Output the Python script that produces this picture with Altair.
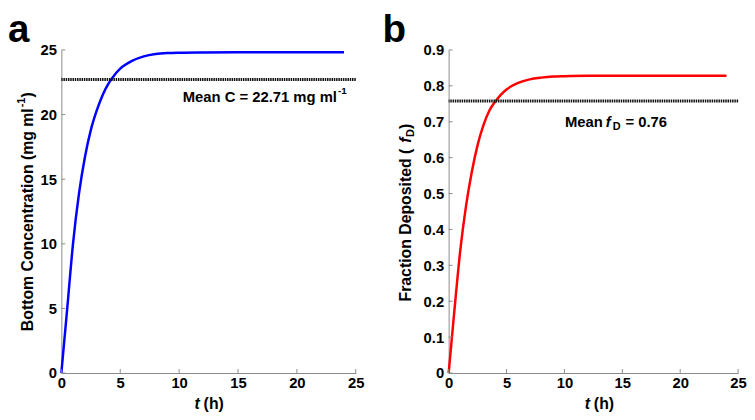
import altair as alt
import pandas as pd

# ---------------- data ----------------
t_hours = [0, 0.5, 1.0, 1.5, 2.0, 2.5, 3.0, 3.5, 4.0, 4.5, 5.0, 6.0, 7.0, 8.0, 9.0,
           10.0, 12.0, 15.0, 18.0, 21.0, 24.0]
bottom_conc = [0, 5.0, 10.1, 13.9, 16.7, 18.8, 20.3, 21.5, 22.4, 23.05, 23.55, 24.15, 24.5,
               24.68, 24.76, 24.79, 24.81, 24.82, 24.82, 24.82, 24.82]
frac_dep = [0, 0.175, 0.34, 0.465, 0.56, 0.635, 0.69, 0.73, 0.755, 0.775, 0.79, 0.808, 0.818,
            0.823, 0.826, 0.827, 0.828, 0.828, 0.828, 0.828, 0.828]
mean_conc = [22.71]
mean_frac = [0.758]
x_ticks = [0, 5, 10, 15, 20, 25]
y_ticks_a = [0, 5, 10, 15, 20, 25]
y_ticks_b = [0, 0.1, 0.2, 0.3, 0.4, 0.5, 0.6, 0.7, 0.8, 0.9]

FONT = "Liberation Sans"
AXC = "#8a8a8a"
FS = 15
TFS = 16
H = 327
WA = 298
WB = 293

df_a = pd.DataFrame({"t": t_hours, "v": bottom_conc})
df_b = pd.DataFrame({"t": t_hours, "v": frac_dep})


def axis_x():
    return alt.Axis(values=x_ticks, ticks=False, tickSize=0, domainColor=AXC, domainWidth=1,
                    labelFont=FONT, labelFontSize=FS, labelFontWeight="bold", labelColor="black",
                    labelPadding=3, grid=False, title=None, labelFlush=False, labelOverlap=False)


def axis_y(vals, fmt):
    return alt.Axis(values=vals, ticks=False, tickSize=0, domainColor=AXC, domainWidth=1,
                    labelFont=FONT, labelFontSize=FS, labelFontWeight="bold", labelColor="black",
                    labelPadding=5, grid=False, title=None, format=fmt, labelOverlap=False,
                    labelFlush=False)


def txt(text, x, y, angle=0, align="left", baseline="middle", size=FS, style="normal",
        dx=0, dy=0):
    kw = dict(font=FONT, fontSize=size, fontWeight="bold", color="black", align=align,
              baseline=baseline, fontStyle=style, dx=dx, dy=dy)
    if angle:
        kw["angle"] = angle
    return alt.Chart(pd.DataFrame({"s": [text]})).mark_text(**kw).encode(
        text="s:N", x=alt.value(x), y=alt.value(y))


def panel(df, color, ydom, yticks, yfmt, W, mean_vals):
    xs = alt.Scale(domain=[0, 25], nice=False, zero=False)
    ys = alt.Scale(domain=ydom, nice=False, zero=False)
    X = lambda f: alt.X(f, scale=xs, axis=axis_x())
    Y = lambda f: alt.Y(f, scale=ys, axis=axis_y(yticks, yfmt))

    line = alt.Chart(df).mark_line(color=color, strokeWidth=2.5, interpolate="monotone").encode(
        x=X("t:Q"), y=Y("v:Q"))
    mean = alt.Chart(pd.DataFrame({"m": mean_vals})).mark_rule(
        color="#111111", strokeWidth=3, strokeDash=[1.5, 0.8]).encode(y=Y("m:Q"))
    xt = alt.Chart(pd.DataFrame({"k": x_ticks})).mark_rule(color=AXC, strokeWidth=1).encode(
        x=X("k:Q"), y=alt.value(H), y2=alt.value(H - 4))
    yt = alt.Chart(pd.DataFrame({"k": yticks})).mark_rule(color=AXC, strokeWidth=1).encode(
        y=Y("k:Q"), x=alt.value(0), x2=alt.value(4))
    return line, mean, xt, yt, X, Y


# ---------------- panel a ----------------
la, ma, xta, yta, Xa, Ya = panel(df_a, "#0000ff", [0, 25], y_ticks_a, "d", WA, mean_conc)
ann_a_pos = pd.DataFrame({"t": [23.4], "y": [21.33]})
ann_a = alt.Chart(ann_a_pos).mark_text(font=FONT, fontSize=FS, fontWeight="bold", color="black",
                                       align="right", baseline="middle").encode(
    x=Xa("t:Q"), y=Ya("y:Q"), text=alt.value("Mean C = 22.71 mg ml"))
ann_a_sup = alt.Chart(ann_a_pos).mark_text(font=FONT, fontSize=10, fontWeight="bold", color="black",
                                           align="left", baseline="middle", dx=1, dy=-6).encode(
    x=Xa("t:Q"), y=Ya("y:Q"), text=alt.value("-1"))

YA = 59
XA = -34
ya_main = txt("Bottom Concentration (mg ml", XA, YA, angle=270, align="right", size=TFS)
ya_sup = txt("-1", XA, YA, angle=270, align="left", size=11, dy=-6, dx=1)
ya_par = txt(")", XA, YA, angle=270, align="left", dx=11, size=TFS)
xa_t = txt("t", 140, 358, align="right", style="italic", size=TFS)
xa_h = txt("(h)", 140, 358, align="left", dx=4, size=TFS)
let_a = txt("a", -54, -8, align="left", baseline="alphabetic", size=39)

chart_a = alt.layer(la, ma, xta, yta, ann_a, ann_a_sup, ya_main, ya_sup, ya_par, xa_t, xa_h,
                    let_a).properties(width=WA, height=H)

# ---------------- panel b ----------------
lb, mb, xtb, ytb, Xb, Yb = panel(df_b, "#ff0000", [0, 0.9], y_ticks_b, ".1~f", WB, mean_frac)
ann_b_pos = pd.DataFrame({"t": [13.57], "y": [0.699]})


def ann_b(text, align, dx=0, dy=0, size=FS, style="normal"):
    return alt.Chart(ann_b_pos).mark_text(font=FONT, fontSize=size, fontWeight="bold",
                                          color="black", align=align, baseline="middle",
                                          dx=dx, dy=dy, fontStyle=style).encode(
        x=Xb("t:Q"), y=Yb("y:Q"), text=alt.value(text))


ab1 = ann_b("Mean", "right", dx=-3)
ab2 = ann_b("f", "left", style="italic")
ab3 = ann_b("D", "left", dx=7, dy=5, size=11)
ab4 = ann_b("= 0.76", "left", dx=20)

YB = 100
XB = -43
yb_main = txt("Fraction Deposited (", XB, YB, angle=270, align="right", size=TFS)
yb_f = txt("f", XB, YB, angle=270, align="left", dx=6, style="italic", size=TFS)
yb_d = txt("D", XB, YB, angle=270, align="left", dx=12, dy=5, size=11)
yb_p = txt(")", XB, YB, angle=270, align="left", dx=20, size=TFS)
xb_t = txt("t", 143, 358, align="right", style="italic", size=TFS)
xb_h = txt("(h)", 143, 358, align="left", dx=4, size=TFS)
let_b = txt("b", -67, -8, align="left", baseline="alphabetic", size=39)

chart_b = alt.layer(lb, mb, xtb, ytb, ab1, ab2, ab3, ab4, yb_main, yb_f, yb_d, yb_p, xb_t, xb_h,
                    let_b).properties(width=WB, height=H)

chart = alt.hconcat(chart_a, chart_b, spacing=18).properties(
    padding={"top": 1, "left": 0, "right": 0, "bottom": 0},
    background="white").configure_view(stroke=None)

chart.save("out.html", embed_options={"renderer": "svg", "actions": False})
